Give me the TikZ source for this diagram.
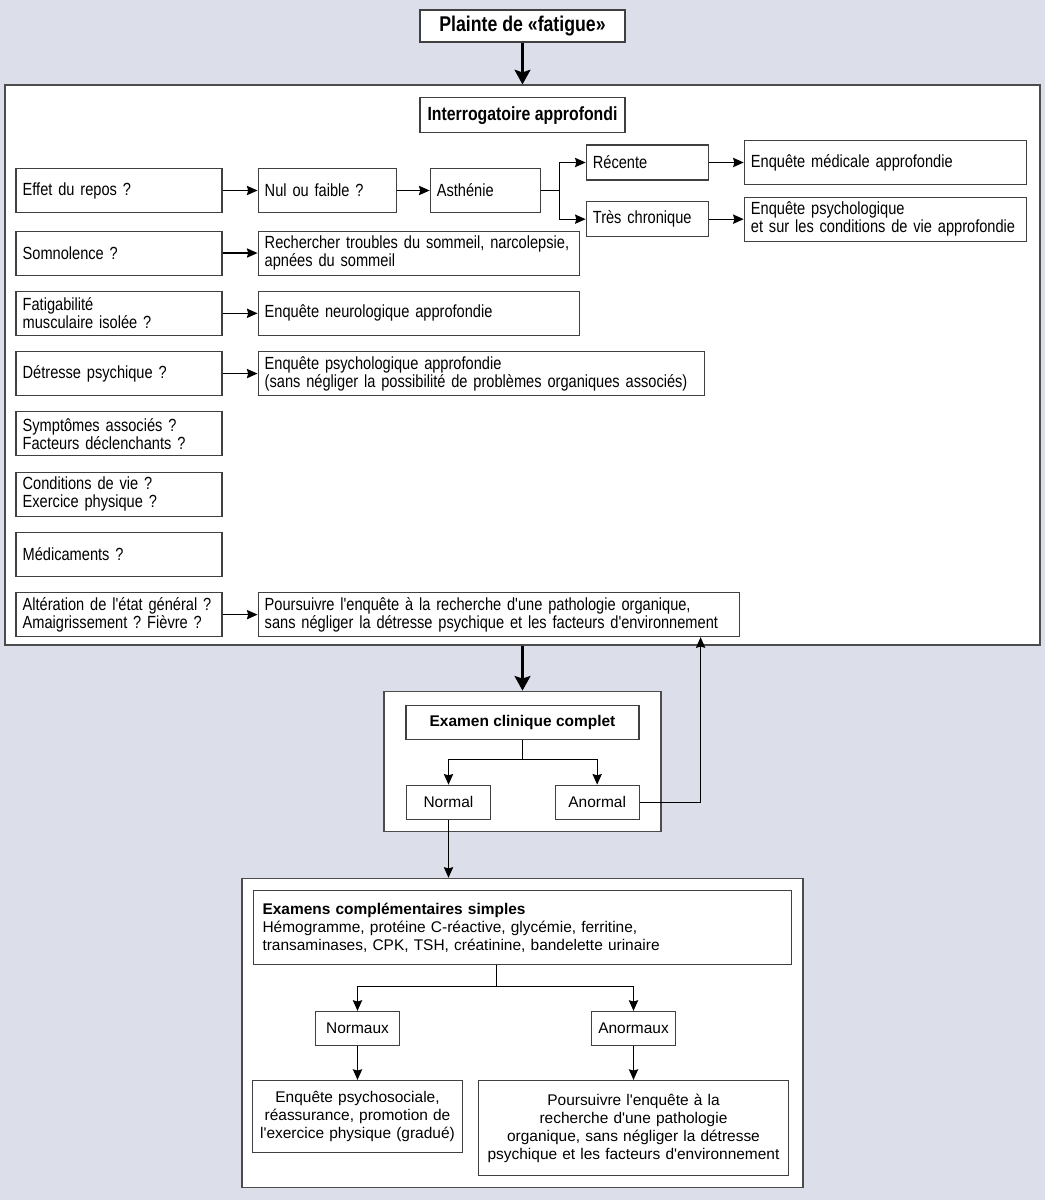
\documentclass[tikz,border=0pt]{standalone}
\usepackage{fontspec}
\setmainfont{Liberation Sans}
\newfontfamily\etroit[FakeStretch=0.83]{Liberation Sans}
\newfontfamily\normale{Liberation Sans}
\usetikzlibrary{positioning,arrows.meta}
\definecolor{fond}{HTML}{DCDEEA}
\frenchspacing

\begin{document}
\begin{tikzpicture}[x=0.75pt,y=-0.75pt,
		>={Stealth[length=8pt,width=7pt,inset=1pt]},
		cadre/.style={rectangle,draw=black!70,line width=0.9pt,fill=white},
		haut/.style={rectangle,draw=black!75,line width=0.8pt,fill=white,minimum height=33pt,inner xsep=5pt,inner ysep=1pt,align=left,font=\etroit\fontsize{13.2}{13.5}\selectfont},
		question/.style={haut,text width=144.5pt},
		titre/.style={rectangle,draw=black!75,line width=0.8pt,fill=white,minimum width=153.75pt,align=center,font=\etroit\bfseries\fontsize{14.3}{15}\selectfont},
		bas/.style={rectangle,draw=black!75,line width=0.8pt,fill=white,inner xsep=4pt,inner ysep=1pt,align=center,font=\normale\fontsize{11.6}{13.5}\selectfont},
		choix/.style={bas,minimum width=63pt,minimum height=25.5pt},
		fleche/.style={line width=0.9pt,->},
		grosse/.style={line width=1.8pt,-{Stealth[length=11pt,width=12pt,inset=2pt]}},
		node distance=26.25pt]
		\fill[fond] (0,0) rectangle (1045,1200);
		\node[titre,minimum height=24pt,font=\etroit\bfseries\fontsize{16}{16}\selectfont] (plainte) at (522.5,26) {Plainte de «fatigue»};
		\node[cadre,minimum width=776.25pt,minimum height=420pt] (cadre1) at (522.5,365) {};
		\node[titre,minimum height=26.25pt] (interro) [below=9.75pt of cadre1.north] {Interrogatoire approfondi};
		\node[question] (effet) at (119,190.5) {Effet du repos ?};
		\node[haut,text width=93.5pt] (nul) [right=of effet] {Nul ou faible ?};
		\node[haut,text width=72.5pt] (asth) [right=24.75pt of nul] {Asthénie};
		\node[haut,text width=81.5pt,minimum height=26.25pt] (recente) [right=33.75pt of asth,yshift=21pt] {Récente};
		\node[haut,text width=81.5pt,minimum height=26.25pt] (chron) [right=33.75pt of asth,yshift=-21.5pt] {Très chronique};
		\node[haut,text width=201.5pt] (medic) [right=of recente] {Enquête médicale approfondie};
		\node[haut,text width=201.5pt] (psycho) [right=of chron] {Enquête psychologique\\et sur les conditions de vie approfondie};
		\node[question] (somno) [below=13.1pt of effet] {Somnolence ?};
		\node[haut,text width=230.75pt] (sommeil) [right=of somno] {Rechercher troubles du sommeil, narcolepsie,\\apnées du sommeil};
		\node[question] (fatig) [below=11.4pt of somno] {Fatigabilité\\musculaire isolée ?};
		\node[haut,text width=230.75pt] (neuro) [right=of fatig] {Enquête neurologique approfondie};
		\node[question] (detresse) [below=11.4pt of fatig] {Détresse psychique ?};
		\node[haut,text width=324.5pt] (psy) [right=of detresse] {Enquête psychologique approfondie\\(sans négliger la possibilité de problèmes organiques associés)};
		\node[question] (sympt) [below=11.4pt of detresse] {Symptômes associés ?\\Facteurs déclenchants ?};
		\node[question] (condit) [below=11.4pt of sympt] {Conditions de vie ?\\Exercice physique ?};
		\node[question] (medoc) [below=11.4pt of condit] {Médicaments ?};
		\node[question] (alter) [below=11.4pt of medoc] {Altération de l'état général ?\\Amaigrissement ? Fièvre ?};
		\node[haut,text width=350.75pt] (pours) [right=of alter] {Poursuivre l'enquête à la recherche d'une pathologie organique,\\sans négliger la détresse psychique et les facteurs d'environnement};
		\node[cadre,minimum width=207.75pt,minimum height=105pt] (cadre2) [below=33.75pt of cadre1] {};
		\node[bas,font=\normale\bfseries\fontsize{11.6}{13.5}\selectfont,minimum width=174.75pt,minimum height=25.5pt] (examen) [below=10.5pt of cadre2.north] {Examen clinique complet};
		\node[choix] (normal) [below=33.75pt of examen,xshift=-55.5pt] {Normal};
		\node[choix] (anormal) [below=33.75pt of examen,xshift=56pt] {Anormal};
		\node[cadre,minimum width=420.75pt,minimum height=231.75pt] (cadre3) [below=34.5pt of cadre2] {};
		\node[bas,align=left,text width=390pt,minimum height=55.5pt,inner xsep=6.75pt] (analyses) [below=9pt of cadre3.north] {\textbf{Examens complémentaires simples}\\Hémogramme, protéine C-réactive, glycémie, ferritine,\\transaminases, CPK, TSH, créatinine, bandelette urinaire};
		\node[choix] (normaux) [below=34.5pt of analyses,xshift=-123.75pt] {Normaux};
		\node[choix] (anormaux) [below=34.5pt of analyses,xshift=83.25pt] {Anormaux};
		\node[bas,text width=150pt,minimum height=54pt] (psysoc) [below=25.5pt of normaux] {Enquête psychosociale,\\réassurance, promotion de\\l'exercice physique (gradué)};
		\node[bas,text width=225pt,minimum height=71.25pt] (pours2) [below=25.5pt of anormaux] {Poursuivre l'enquête à la\\recherche d'une pathologie\\organique, sans négliger la détresse\\psychique et les facteurs d'environnement};
		\draw[grosse] (plainte) -- (cadre1);
		\draw[grosse] (cadre1) -- (cadre2);
		\draw[fleche] (effet) -- (nul);
		\draw[fleche] (nul) -- (asth);
		\draw[line width=0.9pt] (asth.east) -- ++(14.25pt,0) coordinate (embr1);
		\draw[fleche] (embr1) |- (recente);
		\draw[fleche] (embr1) |- (chron);
		\draw[fleche] (recente) -- (medic);
		\draw[fleche] (chron) -- (psycho);
		\draw[fleche] (somno) -- (sommeil);
		\draw[fleche] (fatig) -- (neuro);
		\draw[fleche] (detresse) -- (psy);
		\draw[fleche] (alter) -- (pours);
		\draw[line width=0.9pt] (examen.south) -- ++(0,-15pt) coordinate (embr2);
		\draw[fleche] (embr2) -| (normal);
		\draw[fleche] (embr2) -| (anormal);
		\coordinate (retour) at ([xshift=-29.25pt]pours.south east);
		\draw[fleche] (anormal) -| (retour);
		\draw[fleche] (normal) -- (normal |- cadre3.north);
		\coordinate (embr3) at ([xshift=-19.5pt]analyses.south);
		\draw[line width=0.9pt] (embr3) -- ++(0,-16.5pt) coordinate (embr4);
		\draw[fleche] (embr4) -| (normaux);
		\draw[fleche] (embr4) -| (anormaux);
		\draw[fleche] (normaux) -- (psysoc);
		\draw[fleche] (anormaux) -- (pours2);
	\end{tikzpicture}
\end{document}
